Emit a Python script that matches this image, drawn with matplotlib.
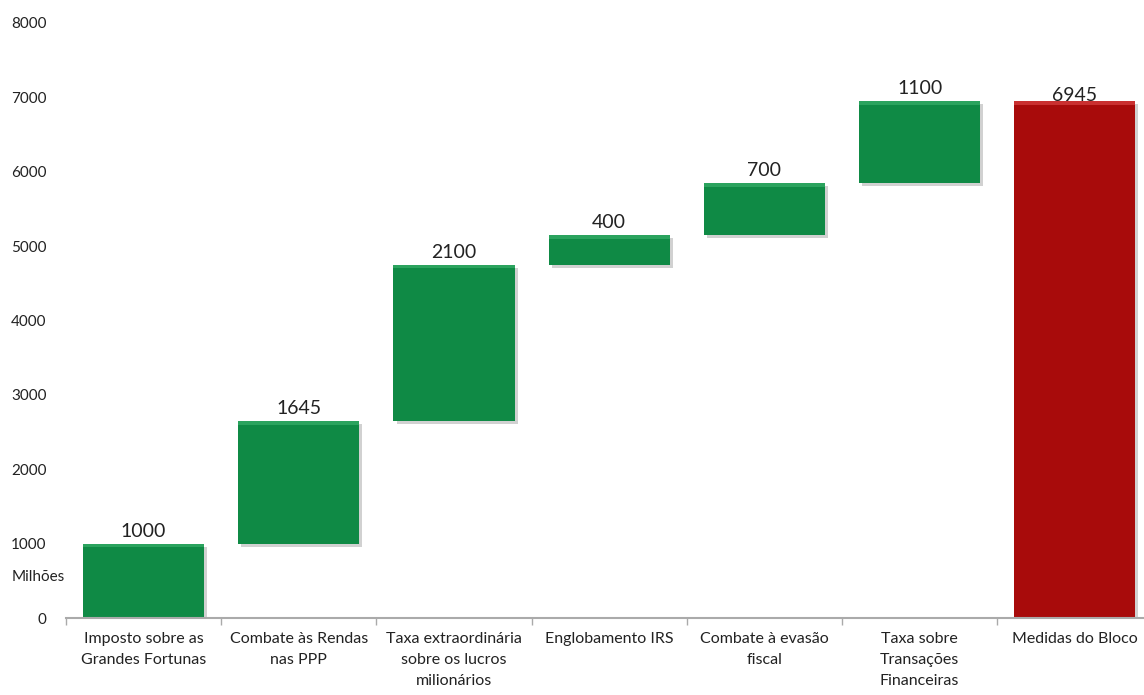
import matplotlib
matplotlib.use("Agg")
import matplotlib.pyplot as plt
from matplotlib.patches import Rectangle

categories = ["Imposto sobre as\nGrandes Fortunas", "Combate às Rendas\nnas PPP",
              "Taxa extraordinária\nsobre os lucros\nmilionários", "Englobamento IRS",
              "Combate à evasão\nfiscal", "Taxa sobre\nTransações\nFinanceiras",
              "Medidas do Bloco"]
increments = [1000, 1645, 2100, 400, 700, 1100]
total = 6945
yticks = [0, 1000, 2000, 3000, 4000, 5000, 6000, 7000, 8000]

plt.rcParams['font.family'] = ['Lato', 'DejaVu Sans']

fig = plt.figure(figsize=(11.44, 6.95), dpi=100)
ax = fig.add_axes([66/1144, 77/695, 1078/1144, 595/695])

green = "#0f8a45"
red = "#a80b0b"
w = 0.78

bottoms = []
acc = 0
for v in increments:
    bottoms.append(acc)
    acc += v
heights = increments + [total]
bottoms = bottoms + [0]
colors = [green] * len(increments) + [red]
xs = list(range(len(categories)))

# shadows
ax.bar([x + 0.02 for x in xs], heights, width=w, bottom=[b - 40 for b in bottoms],
       color="#000000", alpha=0.18, zorder=1)
ax.bar(xs, heights, width=w, bottom=bottoms, color=colors, zorder=2)
# top highlight
for x, b, h, c in zip(xs, bottoms, heights, colors):
    hl = "#3fb56f" if c == green else "#e04a4a"
    ax.add_patch(Rectangle((x - w/2, b + h - 45), w, 45, color=hl, alpha=0.6, zorder=3, lw=0))

for x, b, h in zip(xs, bottoms, heights):
    top = b + h
    off = 55 if x < len(xs) - 1 else -30
    ax.text(x, top + off, f"{h}", ha="center", va="bottom", fontsize=14, color="#222222")

ax.set_yticks(yticks)
ax.set_yticklabels([str(t) for t in yticks], fontsize=11, color="#222222")
ax.tick_params(axis='y', length=0, pad=14)
ax.set_xticks(xs)
ax.set_xticklabels(categories, fontsize=11.5, color="#222222", linespacing=1.65)
ax.tick_params(axis='x', length=0, pad=10)
ax.set_xticks([x + 0.5 for x in range(-1, len(xs))], minor=True)
ax.tick_params(axis='x', which='minor', length=5, color="#aaaaaa", width=1)
ax.set_xlim(-0.5, -0.5 + 1078/155.2)
ax.set_ylim(0, 8000)

for s in ["top", "right", "left"]:
    ax.spines[s].set_visible(False)
ax.spines["bottom"].set_color("#aaaaaa")
ax.spines["bottom"].set_linewidth(1.5)

fig.text(12/1144, 1 - 577/695, "Milhões", fontsize=11, color="#222222", va="center", ha="left")

fig.savefig("out.png", dpi=100)
